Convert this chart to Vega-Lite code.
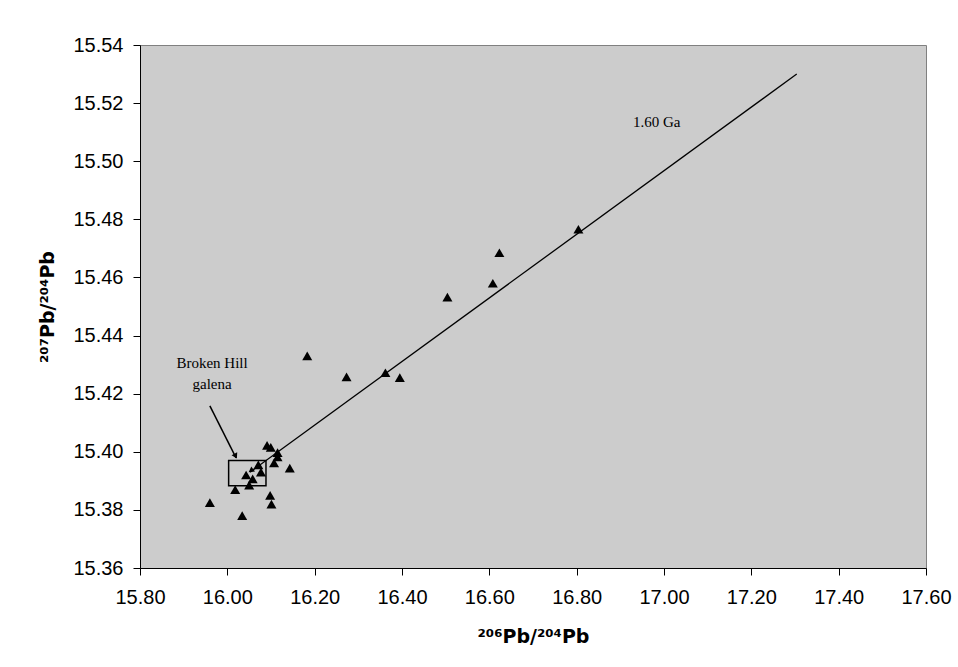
{
  "$schema": "https://vega.github.io/schema/vega-lite/v6.json",
  "width": 786,
  "height": 523,
  "autosize": "none",
  "padding": {"left": 140, "top": 45, "right": 32, "bottom": 99},
  "background": "white",
  "config": {
    "view": {"fill": "#cccccc", "stroke": "#808080", "strokeWidth": 1},
    "axis": {
      "grid": false,
      "domainColor": "#000000",
      "domainWidth": 1,
      "tickColor": "#000000",
      "tickSize": 7,
      "tickWidth": 1,
      "labelFont": "Liberation Sans",
      "labelFontSize": 20,
      "labelColor": "#000000",
      "labelFlush": false,
      "labelOverlap": false,
      "titleFont": "DejaVu Sans",
      "titleFontSize": 19,
      "titleFontWeight": "bold",
      "titleColor": "#000000"
    }
  },
  "datasets": {
    "samples": [
      {"x": 16.183, "y": 15.433},
      {"x": 15.960, "y": 15.3825},
      {"x": 16.034, "y": 15.378},
      {"x": 16.018, "y": 15.387},
      {"x": 16.043, "y": 15.392},
      {"x": 16.050, "y": 15.3885},
      {"x": 16.058, "y": 15.3907},
      {"x": 16.071, "y": 15.3955},
      {"x": 16.077, "y": 15.393},
      {"x": 16.091, "y": 15.4022},
      {"x": 16.0995, "y": 15.4015},
      {"x": 16.115, "y": 15.3997},
      {"x": 16.115, "y": 15.3982},
      {"x": 16.107, "y": 15.3962},
      {"x": 16.143, "y": 15.3944},
      {"x": 16.098, "y": 15.385},
      {"x": 16.101, "y": 15.382},
      {"x": 16.273, "y": 15.4258},
      {"x": 16.362, "y": 15.4272},
      {"x": 16.395, "y": 15.4255},
      {"x": 16.504, "y": 15.4532},
      {"x": 16.608, "y": 15.458},
      {"x": 16.623, "y": 15.4685},
      {"x": 16.804, "y": 15.4766}
    ],
    "isochron": [
      {"x": 17.304, "y": 15.530, "order": 1},
      {"x": 16.052, "y": 15.393, "order": 2}
    ],
    "pointer": [
      {"x": 15.960, "y": 15.4158, "order": 1},
      {"x": 16.020, "y": 15.3979, "order": 2}
    ],
    "heads": [
      {"x": 16.054, "y": 15.3935, "angle": 234},
      {"x": 16.019, "y": 15.3985, "angle": 153}
    ],
    "box": [
      {"x": 16.003, "x2": 16.0885, "y": 15.3883, "y2": 15.397}
    ],
    "labels": [
      {"x": 15.965, "y": 15.4306, "label": "Broken Hill"},
      {"x": 15.965, "y": 15.4233, "label": "galena"}
    ],
    "age": [
      {"x": 16.929, "y": 15.5135, "label": "1.60 Ga"}
    ]
  },
  "encoding": {
    "x": {
      "field": "x",
      "type": "quantitative",
      "scale": {"domain": [15.8, 17.6], "nice": false, "zero": false},
      "axis": {
        "values": [15.8, 16.0, 16.2, 16.4, 16.6, 16.8, 17.0, 17.2, 17.4, 17.6],
        "format": ".2f",
        "labelPadding": 12,
        "titlePadding": 20,
        "title": "²⁰⁶Pb/²⁰⁴Pb"
      }
    },
    "y": {
      "field": "y",
      "type": "quantitative",
      "scale": {"domain": [15.36, 15.54], "nice": false, "zero": false},
      "axis": {
        "values": [15.36, 15.38, 15.40, 15.42, 15.44, 15.46, 15.48, 15.50, 15.52, 15.54],
        "format": ".2f",
        "labelPadding": 10,
        "titlePadding": 15,
        "title": "²⁰⁷Pb/²⁰⁴Pb"
      }
    }
  },
  "layer": [
    {
      "data": {"name": "isochron"},
      "mark": {"type": "line", "color": "#000000", "strokeWidth": 1.3},
      "encoding": {"order": {"field": "order", "type": "quantitative"}}
    },
    {
      "data": {"name": "pointer"},
      "mark": {"type": "line", "color": "#000000", "strokeWidth": 1.5},
      "encoding": {"order": {"field": "order", "type": "quantitative"}}
    },
    {
      "data": {"name": "box"},
      "mark": {"type": "rect", "fill": null, "fillOpacity": 0, "stroke": "#000000", "strokeWidth": 1.5},
      "encoding": {
        "x2": {"field": "x2"},
        "y2": {"field": "y2"}
      }
    },
    {
      "data": {"name": "samples"},
      "mark": {"type": "point", "shape": "triangle-up", "filled": true, "color": "#000000", "size": 100, "opacity": 1}
    },
    {
      "data": {"name": "heads"},
      "mark": {"type": "point", "shape": "triangle-up", "filled": true, "color": "#000000", "size": 40, "opacity": 1},
      "encoding": {"angle": {"field": "angle", "type": "quantitative", "scale": null}}
    },
    {
      "data": {"name": "labels"},
      "mark": {"type": "text", "font": "Liberation Serif", "fontSize": 15, "color": "#000000", "align": "center", "baseline": "middle"},
      "encoding": {"text": {"field": "label"}}
    },
    {
      "data": {"name": "age"},
      "mark": {"type": "text", "font": "Liberation Serif", "fontSize": 15, "color": "#000000", "align": "left", "baseline": "middle"},
      "encoding": {"text": {"field": "label"}}
    }
  ]
}
